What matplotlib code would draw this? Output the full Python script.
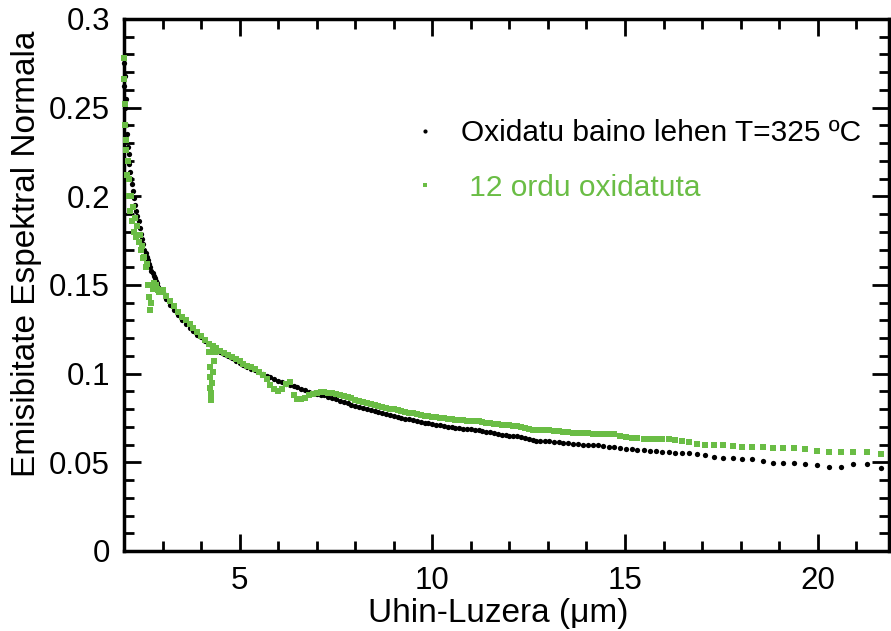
import matplotlib
matplotlib.use("Agg")
import matplotlib.pyplot as plt
from matplotlib.ticker import MultipleLocator, FuncFormatter
from matplotlib.lines import Line2D

plt.rcParams['font.family'] = ['Liberation Sans', 'DejaVu Sans']

# ---------------- data ----------------
wavelength = [
    2.00, 2.01, 2.02, 2.03, 2.04, 2.06, 2.08, 2.10, 2.12, 2.14, 2.16, 2.18, 2.20,
    2.23, 2.26, 2.29, 2.32, 2.35, 2.38, 2.41, 2.44, 2.47, 2.50, 2.53, 2.56, 2.59,
    2.62, 2.65, 2.68, 2.71, 2.74, 2.77, 2.80, 2.83, 2.86, 2.89, 2.92, 2.96,
    3.0, 3.1, 3.2, 3.3, 3.4, 3.5, 3.6, 3.7, 3.8, 3.9,
    4.0, 4.1, 4.2, 4.3, 4.4, 4.5, 4.6, 4.7, 4.8, 4.9,
    5.0, 5.1, 5.2, 5.3, 5.4, 5.5, 5.6, 5.7, 5.8, 5.9,
    6.0, 6.1, 6.2, 6.3, 6.4, 6.5, 6.6, 6.7, 6.8, 6.9,
    7.0, 7.1, 7.2, 7.3, 7.4, 7.5, 7.6, 7.7, 7.8, 7.9,
    8.0, 8.1, 8.2, 8.3, 8.4, 8.5, 8.6, 8.7, 8.8, 8.9,
    9.0, 9.1, 9.2, 9.3, 9.4, 9.5, 9.6, 9.7, 9.8, 9.9,
    10.0, 10.1, 10.2, 10.3, 10.4, 10.5, 10.6, 10.7, 10.8, 10.9, 11.0,
    11.1, 11.2, 11.3, 11.4, 11.5, 11.6, 11.7, 11.8, 11.9, 12.0,
    12.1, 12.2, 12.3, 12.4, 12.5, 12.6, 12.7, 12.8,
    12.92, 13.04, 13.16, 13.28, 13.4, 13.52, 13.64, 13.77, 13.9, 14.03,
    14.16, 14.3, 14.44, 14.58, 14.72, 14.87, 15.02, 15.17, 15.32, 15.48,
    15.64, 15.8, 15.96, 16.13, 16.3,
    16.47, 16.67, 16.87, 17.07, 17.31, 17.55, 17.79, 18.03, 18.29, 18.57,
    18.84, 19.10, 19.38, 19.67, 19.97, 20.29, 20.60, 20.91, 21.29, 21.63,
]

emis_before = [
    0.275, 0.262, 0.268, 0.250, 0.255, 0.240, 0.235, 0.228, 0.224, 0.218, 0.214, 0.210, 0.207,
    0.203, 0.199, 0.195, 0.192, 0.189, 0.186, 0.182, 0.179, 0.176, 0.173, 0.170, 0.168, 0.166,
    0.164, 0.162, 0.160, 0.158, 0.157, 0.155, 0.154, 0.152, 0.151, 0.149, 0.148, 0.147,
    0.146, 0.142, 0.139, 0.136, 0.133, 0.130, 0.128, 0.126, 0.124, 0.122,
    0.1205, 0.1185, 0.1165, 0.1150, 0.1135, 0.1122, 0.1110, 0.1098, 0.1086, 0.1074,
    0.1062, 0.1050, 0.1039, 0.1029, 0.1019, 0.1009, 0.0999, 0.0989, 0.0979, 0.0969,
    0.0959, 0.0951, 0.0944, 0.0937, 0.0930, 0.0923, 0.0915, 0.0907, 0.0899, 0.0892,
    0.0887, 0.0882, 0.0877, 0.0871, 0.0864, 0.0856, 0.0848, 0.0840, 0.0833, 0.0826,
    0.0820, 0.0814, 0.0808, 0.0802, 0.0796, 0.0790, 0.0784, 0.0778, 0.0772, 0.0767,
    0.0762, 0.0757, 0.0752, 0.0747, 0.0742, 0.0737, 0.0732, 0.0727, 0.0723, 0.0719,
    0.0715, 0.0712, 0.0709, 0.0705, 0.0701, 0.0697, 0.0694, 0.0692, 0.0690, 0.0688, 0.0686,
    0.0685, 0.0681, 0.0677, 0.0673, 0.0669, 0.0665, 0.0660, 0.0656, 0.0653, 0.0651,
    0.0649, 0.0647, 0.0644, 0.0637, 0.0629, 0.0625, 0.0623, 0.0622,
    0.0621, 0.0619, 0.0617, 0.0614, 0.0611, 0.0608, 0.0606, 0.0603, 0.0600, 0.0600,
    0.0599, 0.0597, 0.0593, 0.0589, 0.0586, 0.0582, 0.0578, 0.0574, 0.0571, 0.0568,
    0.0565, 0.0562, 0.0559, 0.0556, 0.0553,
    0.0551, 0.0551, 0.0547, 0.0543, 0.0532, 0.0526, 0.0523, 0.0517, 0.0517, 0.0508,
    0.0498, 0.0495, 0.0495, 0.0491, 0.0485, 0.0475, 0.0475, 0.0489, 0.0489, 0.0470,
]

emis_oxidized = [
    0.278, 0.266, 0.252, 0.240, 0.226, 0.232, 0.212, 0.220, 0.200, 0.210, 0.192, 0.200, 0.186,
    0.194, 0.180, 0.188, 0.177, 0.183, 0.174, 0.178, 0.170, 0.172, 0.165, 0.166, 0.160, 0.162,
    0.150, 0.143, 0.136, 0.140, 0.148, 0.151, 0.149, 0.150, 0.148, 0.147, 0.146, 0.146,
    0.147, 0.144, 0.141, 0.138, 0.135, 0.132, 0.130, 0.128, 0.126, 0.1235,
    0.1215, 0.1190, 0.1170, 0.1155, 0.1145, 0.1130, 0.1117, 0.1105, 0.1093, 0.1081,
    0.1069, 0.1057, 0.1046, 0.1036, 0.1025, 0.1012, 0.0995, 0.0970, 0.0935, 0.0915,
    0.0900, 0.0915, 0.0940, 0.0955, 0.0880, 0.0855, 0.0855, 0.0865, 0.0878, 0.0885,
    0.0890, 0.0895, 0.0895, 0.0893, 0.0889, 0.0884, 0.0878, 0.0872, 0.0866, 0.0860,
    0.0853, 0.0847, 0.0841, 0.0836, 0.0830, 0.0825, 0.0819, 0.0813, 0.0808, 0.0803,
    0.0798, 0.0794, 0.0789, 0.0785, 0.0780, 0.0776, 0.0771, 0.0767, 0.0763, 0.0760,
    0.0757, 0.0754, 0.0751, 0.0748, 0.0745, 0.0742, 0.0740, 0.0738, 0.0736, 0.0734, 0.0732,
    0.0735, 0.0731, 0.0726, 0.0722, 0.0719, 0.0716, 0.0714, 0.0712, 0.0710, 0.0708,
    0.0706, 0.0704, 0.0700, 0.0693, 0.0686, 0.0684, 0.0683, 0.0682,
    0.0681, 0.0680, 0.0679, 0.0676, 0.0673, 0.0670, 0.0668, 0.0666, 0.0664, 0.0663,
    0.0661, 0.0659, 0.0660, 0.0662, 0.0658, 0.0650, 0.0643, 0.0637, 0.0635, 0.0634,
    0.0634, 0.0633, 0.0633, 0.0631, 0.0627,
    0.0622, 0.0615, 0.0602, 0.0598, 0.0598, 0.0598, 0.0592, 0.0588, 0.0588, 0.0588,
    0.0583, 0.0579, 0.0579, 0.0574, 0.0566, 0.0560, 0.0560, 0.0560, 0.0557, 0.0547,
]

# CO2 absorption dip, only in the oxidized series
dip_wavelength = [4.20, 4.22, 4.23, 4.24, 4.25, 4.26, 4.27, 4.29, 4.31, 4.33, 4.35]
dip_emissivity = [0.112, 0.104, 0.098, 0.092, 0.087, 0.085, 0.089, 0.095, 0.101, 0.107, 0.112]

label_before = "Oxidatu baino lehen T=325 ºC"
label_oxidized = " 12 ordu oxidatuta"
xlabel = "Uhin-Luzera (\u03bcm)"
ylabel = "Emisibitate Espektral Normala"

GREEN = "#6abd45"
MS_BLACK = 3.8
MS_GREEN = 4.2

# ---------------- figure ----------------
fig = plt.figure(figsize=(8.91, 6.31), dpi=100)
ax = fig.add_axes([124 / 891, 80 / 631, 765 / 891, 532 / 631])

ax.plot(wavelength, emis_oxidized, linestyle="none", marker="s", markersize=MS_GREEN,
        markeredgewidth=0, color=GREEN, zorder=3, clip_on=False)
ax.plot(dip_wavelength, dip_emissivity, linestyle="none", marker="s", markersize=MS_GREEN,
        markeredgewidth=0, color=GREEN, zorder=3, clip_on=False)
ax.plot(wavelength, emis_before, linestyle="none", marker="o", markersize=MS_BLACK,
        markeredgewidth=0, color="black", zorder=2.9, clip_on=False)

ax.set_xlim(2.0, 21.85)
ax.set_ylim(0, 0.3)

ax.xaxis.set_major_locator(MultipleLocator(5))
ax.xaxis.set_minor_locator(MultipleLocator(1))
ax.yaxis.set_major_locator(MultipleLocator(0.05))
ax.yaxis.set_minor_locator(MultipleLocator(0.01))
ax.yaxis.set_major_formatter(FuncFormatter(lambda v, p: "%g" % round(v, 3)))

for s in ax.spines.values():
    s.set_linewidth(2.5)

ax.tick_params(which="both", direction="in", top=True, right=True, width=2.0)
ax.tick_params(which="major", length=12, labelsize=22.5)
ax.tick_params(which="minor", length=7)
ax.tick_params(axis="y", which="major", pad=10)
ax.tick_params(axis="x", which="major", pad=11)

ax.set_xlabel(xlabel, fontsize=24, labelpad=1)
ax.set_ylabel(ylabel, fontsize=24, labelpad=5)
ax.xaxis.label.set_x(0.489)
ax.yaxis.label.set_y(0.558)

handles = [
    Line2D([], [], linestyle="none", marker="o", markersize=3.0, markeredgewidth=0, color="black"),
    Line2D([], [], linestyle="none", marker="s", markersize=3.4, markeredgewidth=0, color=GREEN),
]
leg = ax.legend(handles, [label_before, label_oxidized], loc="upper left",
                bbox_to_anchor=(0.354, 0.84), frameon=False, fontsize=21.5,
                handlelength=1.0, handletextpad=0.7, labelspacing=0.9, borderpad=0)
leg.get_texts()[1].set_color(GREEN)

fig.savefig("out.png", dpi=100)
